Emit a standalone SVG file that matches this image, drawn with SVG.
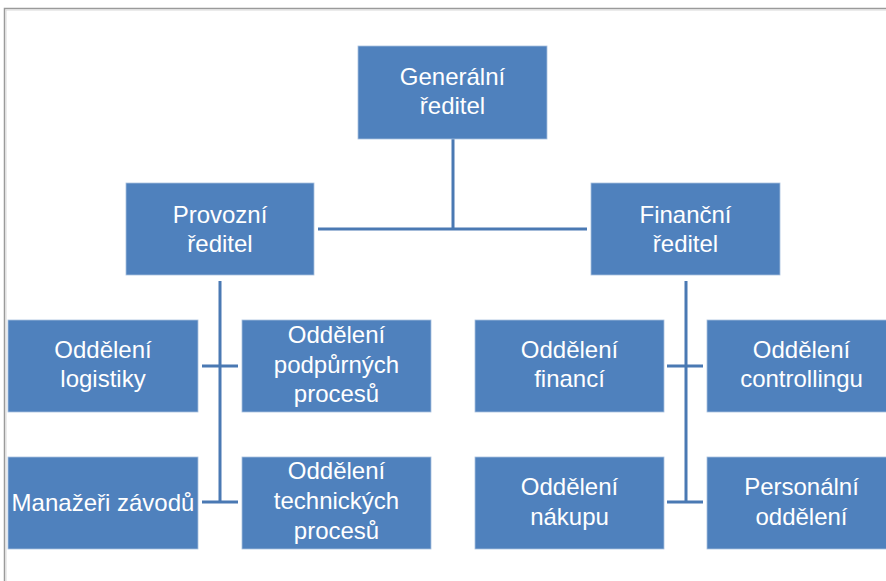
<svg xmlns="http://www.w3.org/2000/svg" width="886" height="581" viewBox="0 0 886 581">
<style>
.box{fill:#4F81BD;stroke:#A9C1DF;stroke-width:0.8}
.t{font-family:"Liberation Sans",Arial,sans-serif;font-size:24px;fill:#FFFFFF;text-anchor:middle}
.c{stroke:#4A79B3;stroke-width:3;fill:none}
</style>
<rect x="0" y="0" width="886" height="581" fill="#FFFFFF"/>
<path d="M4.5,581 V8.5 H886" fill="none" stroke="#9A9A9A" stroke-width="1.5"/>
<path d="M6,581 V10 H886" fill="none" stroke="#D8D8D8" stroke-width="1"/>
<g id="connectors">
<path class="c" d="M453,139 V229 M318,229 H587"/>
<path class="c" d="M220,281 V502 M202,366 H238 M202,502 H238"/>
<path class="c" d="M686,281 V502 M667,366 H703 M667,502 H703"/>
</g>
<g id="generalni">
<rect class="box" x="358" y="46" width="189" height="93"/>
<text class="t" x="452.5" y="85">Generální</text>
<text class="t" x="452.5" y="114">ředitel</text>
</g>
<g id="provozni">
<rect class="box" x="126" y="183" width="188" height="92"/>
<text class="t" x="220" y="223">Provozní</text>
<text class="t" x="220" y="252">ředitel</text>
</g>
<g id="financni">
<rect class="box" x="591" y="183" width="189" height="92"/>
<text class="t" x="685.5" y="223">Finanční</text>
<text class="t" x="685.5" y="252">ředitel</text>
</g>
<g id="logistika">
<rect class="box" x="8" y="320" width="190" height="92"/>
<text class="t" x="103" y="358">Oddělení</text>
<text class="t" x="103" y="387">logistiky</text>
</g>
<g id="podpurne">
<rect class="box" x="242" y="320" width="189" height="92"/>
<text class="t" x="336.5" y="343">Oddělení</text>
<text class="t" x="336.5" y="373">podpůrných</text>
<text class="t" x="336.5" y="402">procesů</text>
</g>
<g id="manazeri">
<rect class="box" x="8" y="457" width="190" height="92"/>
<text class="t" x="103" y="511">Manažeři závodů</text>
</g>
<g id="technicke">
<rect class="box" x="242" y="457" width="189" height="92"/>
<text class="t" x="336.5" y="479">Oddělení</text>
<text class="t" x="336.5" y="509">technických</text>
<text class="t" x="336.5" y="539">procesů</text>
</g>
<g id="financi">
<rect class="box" x="475" y="320" width="189" height="92"/>
<text class="t" x="569.5" y="358">Oddělení</text>
<text class="t" x="569.5" y="387">financí</text>
</g>
<g id="controlling">
<rect class="box" x="707" y="320" width="189" height="92"/>
<text class="t" x="801.5" y="358">Oddělení</text>
<text class="t" x="801.5" y="387">controllingu</text>
</g>
<g id="nakup">
<rect class="box" x="475" y="457" width="189" height="92"/>
<text class="t" x="569.5" y="495">Oddělení</text>
<text class="t" x="569.5" y="525">nákupu</text>
</g>
<g id="personalni">
<rect class="box" x="707" y="457" width="189" height="92"/>
<text class="t" x="801.5" y="495">Personální</text>
<text class="t" x="801.5" y="525">oddělení</text>
</g>
</svg>
